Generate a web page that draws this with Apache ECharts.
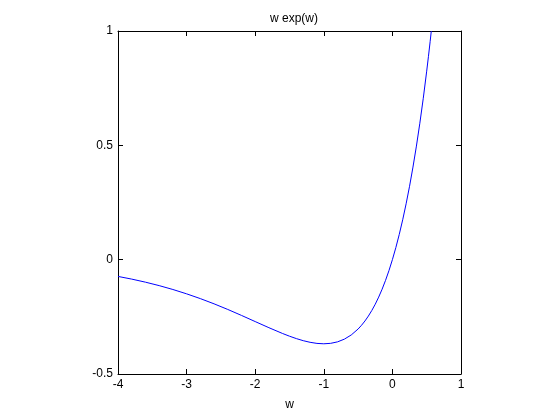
<!DOCTYPE html>
<html><head><meta charset="utf-8">
<script src="https://cdn.jsdelivr.net/npm/echarts@6/dist/echarts.min.js"></script>
<style>html,body{margin:0;padding:0;background:#fff}#c{width:560px;height:420px}</style>
</head><body><div id="c"></div>
<script>
const wValues = [-4.0,-3.8,-3.6,-3.4,-3.2,-3.0,-2.8,-2.6,-2.4,-2.2,-2.0,-1.8,-1.6,-1.5,-1.4,-1.3,-1.2,-1.1,-1.0,-0.9,-0.8,-0.7,-0.6,-0.5,-0.45,-0.4,-0.35,-0.3,-0.25,-0.2,-0.15,-0.1,-0.05,0.0,0.05,0.1,0.15,0.2,0.25,0.3,0.35,0.4,0.45,0.5,0.525,0.55,0.567];
const yValues = [-0.0733,-0.0850,-0.0984,-0.1135,-0.1304,-0.1494,-0.1703,-0.1931,-0.2177,-0.2438,-0.2707,-0.2975,-0.3230,-0.3347,-0.3452,-0.3543,-0.3614,-0.3662,-0.3679,-0.3659,-0.3595,-0.3476,-0.3293,-0.3033,-0.2869,-0.2681,-0.2466,-0.2222,-0.1947,-0.1637,-0.1291,-0.0905,-0.0476,0.0,0.0526,0.1105,0.1743,0.2443,0.3210,0.4050,0.4967,0.5967,0.7057,0.8244,0.8875,0.9533,1.0];
const title = 'w exp(w)';
const xLabel = 'w';

const chart = echarts.init(document.getElementById('c'));
const font = 'Liberation Sans, Arial, sans-serif';
const axisCommon = {
  axisLine: {show: true, onZero: false, lineStyle: {color: '#000', width: 1}},
  axisTick: {show: true, inside: true, length: 5, lineStyle: {color: '#000'}},
  splitLine: {show: false}
};
chart.setOption({
  animation: false,
  title: {text: title, left: 289, textAlign: 'center', top: 8,
    textStyle: {fontFamily: font, fontSize: 12, fontWeight: 'normal', color: '#000'}},
  grid: {left: 118, top: 31, right: 99, bottom: 46},
  xAxis: [
    Object.assign({type: 'value', min: -4, max: 1, interval: 1, position: 'bottom',
      name: xLabel, nameLocation: 'middle', nameGap: 25,
      nameTextStyle: {fontFamily: font, fontSize: 12, color: '#000'},
      axisLabel: {fontFamily: font, fontSize: 12, color: '#000', margin: 5}}, axisCommon),
    Object.assign({type: 'value', min: -4, max: 1, interval: 1, position: 'top',
      axisLabel: {show: false}}, axisCommon)
  ],
  yAxis: [
    Object.assign({type: 'value', min: -0.5, max: 1, interval: 0.5, position: 'left',
      axisLabel: {fontFamily: font, fontSize: 12, color: '#000', margin: 5}}, axisCommon),
    Object.assign({type: 'value', min: -0.5, max: 1, interval: 0.5, position: 'right',
      axisLabel: {show: false}}, axisCommon)
  ],
  series: [{
    type: 'line', xAxisIndex: 0, yAxisIndex: 0,
    data: wValues.map((w, i) => [w, yValues[i]]),
    smooth: false, showSymbol: false,
    lineStyle: {color: '#0000ff', width: 1}, clip: true
  }]
});
</script></body></html>
